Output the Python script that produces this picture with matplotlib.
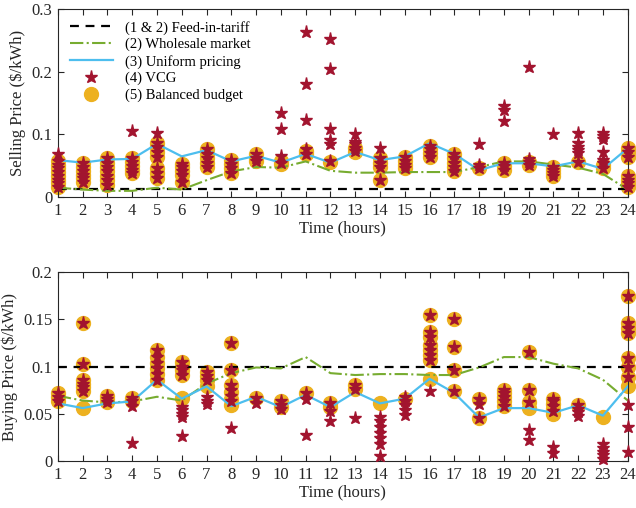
import matplotlib.pyplot as plt
import numpy as np

plt.rcParams['font.family'] = ['Liberation Serif', 'DejaVu Serif']
plt.rcParams['mathtext.fontset'] = 'stix'

hours = list(range(1, 25))

# selling price (top panel)
sell_fit = 0.0125
sell_wholesale = [0.015, 0.012, 0.010, 0.010, 0.015, 0.012, 0.027, 0.041, 0.048, 0.047, 0.057, 0.042,
                  0.039, 0.039, 0.040, 0.040, 0.040, 0.048, 0.057, 0.057, 0.052, 0.047, 0.037, 0.012]
sell_uniform = [0.059, 0.055, 0.060, 0.061, 0.085, 0.065, 0.075, 0.057, 0.066, 0.055, 0.069, 0.055,
                0.072, 0.059, 0.065, 0.086, 0.069, 0.043, 0.054, 0.054, 0.049, 0.057, 0.045, 0.078]
sell_bb = [
    [0.016, 0.022, 0.028, 0.034, 0.040, 0.046, 0.052, 0.058],
    [0.024, 0.030, 0.036, 0.042, 0.048, 0.054],
    [0.020, 0.027, 0.034, 0.041, 0.048, 0.055, 0.062],
    [0.038, 0.044, 0.050, 0.056, 0.062],
    [0.030, 0.038, 0.046, 0.064, 0.072, 0.080, 0.087],
    [0.024, 0.036, 0.042, 0.048, 0.053],
    [0.048, 0.055, 0.062, 0.069, 0.077],
    [0.038, 0.046, 0.053, 0.059],
    [0.057, 0.063, 0.068],
    [0.053, 0.058],
    [0.068, 0.074],
    [0.056],
    [0.072, 0.078],
    [0.027, 0.048, 0.055, 0.062],
    [0.046, 0.052, 0.058, 0.064],
    [0.064, 0.070, 0.076, 0.081],
    [0.041, 0.048, 0.055, 0.062, 0.069],
    [0.046],
    [0.043, 0.049, 0.054],
    [0.052, 0.056],
    [0.033, 0.038, 0.043, 0.048],
    [0.056],
    [0.046, 0.052],
    [0.016, 0.022, 0.028, 0.034, 0.064, 0.072, 0.078],
]
sell_vcg = [
    [0.016, 0.022, 0.028, 0.034, 0.040, 0.046, 0.052, 0.058, 0.068],
    [0.024, 0.030, 0.036, 0.042, 0.048, 0.054],
    [0.020, 0.027, 0.034, 0.041, 0.048, 0.055, 0.062],
    [0.038, 0.044, 0.050, 0.056, 0.062, 0.105],
    [0.030, 0.038, 0.046, 0.064, 0.072, 0.080, 0.087, 0.103],
    [0.024, 0.036, 0.042, 0.048, 0.053],
    [0.048, 0.055, 0.062, 0.069, 0.077],
    [0.038, 0.046, 0.053, 0.059],
    [0.057, 0.063, 0.068],
    [0.055, 0.065, 0.109, 0.135],
    [0.068, 0.076, 0.123, 0.181, 0.263],
    [0.058, 0.085, 0.091, 0.108, 0.205, 0.252],
    [0.073, 0.078, 0.084, 0.088, 0.100],
    [0.027, 0.048, 0.055, 0.062, 0.078],
    [0.046, 0.052, 0.058, 0.064],
    [0.064, 0.070, 0.076, 0.081],
    [0.041, 0.048, 0.055, 0.062, 0.069],
    [0.046, 0.052, 0.085],
    [0.043, 0.049, 0.054, 0.122, 0.139, 0.146],
    [0.052, 0.056, 0.061, 0.208],
    [0.033, 0.038, 0.043, 0.048, 0.100],
    [0.056, 0.070, 0.075, 0.080, 0.086, 0.102],
    [0.046, 0.054, 0.060, 0.072, 0.093, 0.098, 0.102],
    [0.016, 0.022, 0.028, 0.034, 0.064, 0.072, 0.078],
]

# buying price (bottom panel)
buy_fit = 0.1
buy_wholesale = [0.069, 0.064, 0.062, 0.063, 0.068, 0.064, 0.082, 0.093, 0.099, 0.098, 0.110, 0.093,
                 0.091, 0.092, 0.092, 0.091, 0.091, 0.099, 0.110, 0.110, 0.103, 0.098, 0.086, 0.064]
buy_uniform = [0.061, 0.056, 0.061, 0.063, 0.086, 0.066, 0.079, 0.058, 0.068, 0.057, 0.070, 0.057,
               0.073, 0.061, 0.066, 0.087, 0.072, 0.046, 0.056, 0.056, 0.051, 0.059, 0.048, 0.079]
buy_bb = [
    [0.064, 0.068, 0.072],
    [0.056, 0.074, 0.078, 0.082, 0.086, 0.103, 0.146],
    [0.062, 0.066, 0.069],
    [0.063, 0.067],
    [0.086, 0.092, 0.098, 0.104, 0.110, 0.117],
    [0.067, 0.091, 0.096, 0.100, 0.105],
    [0.079, 0.086, 0.090, 0.094],
    [0.059, 0.066, 0.073, 0.080, 0.096, 0.125],
    [0.067],
    [0.057, 0.063],
    [0.072],
    [0.057, 0.061],
    [0.076, 0.080],
    [0.061],
    [0.066],
    [0.087, 0.107, 0.112, 0.117, 0.123, 0.131, 0.137, 0.154],
    [0.074, 0.096, 0.121, 0.150],
    [0.045, 0.066],
    [0.058, 0.063, 0.068, 0.072, 0.075],
    [0.056, 0.062, 0.075, 0.115],
    [0.050, 0.055, 0.060, 0.066],
    [0.059],
    [0.047],
    [0.079, 0.089, 0.099, 0.109, 0.135, 0.141, 0.146, 0.175],
]
buy_vcg = [
    [0.064, 0.068, 0.072],
    [0.074, 0.078, 0.082, 0.086, 0.103, 0.146],
    [0.062, 0.066, 0.069],
    [0.019, 0.058, 0.063, 0.067],
    [0.086, 0.092, 0.098, 0.104, 0.110, 0.117],
    [0.026, 0.047, 0.050, 0.054, 0.057, 0.091, 0.096, 0.100, 0.105],
    [0.060, 0.064, 0.068, 0.086, 0.090, 0.094],
    [0.035, 0.063, 0.069, 0.075, 0.080, 0.096, 0.125],
    [0.061, 0.067],
    [0.055, 0.059, 0.063],
    [0.028, 0.066, 0.072],
    [0.042, 0.053, 0.061],
    [0.045, 0.076, 0.080],
    [0.005, 0.018, 0.024, 0.030, 0.036, 0.042, 0.047],
    [0.049, 0.054, 0.059, 0.063, 0.068],
    [0.074, 0.107, 0.112, 0.117, 0.123, 0.131, 0.137, 0.154],
    [0.074, 0.096, 0.121, 0.150],
    [0.045, 0.060, 0.066],
    [0.058, 0.063, 0.068, 0.072, 0.075],
    [0.022, 0.033, 0.062, 0.075, 0.115],
    [0.008, 0.015, 0.053, 0.058, 0.063, 0.066],
    [0.048, 0.052, 0.055, 0.059],
    [0.002, 0.006, 0.010, 0.014, 0.018],
    [0.010, 0.036, 0.059, 0.089, 0.099, 0.109, 0.135, 0.141, 0.146, 0.175],
]

c_star = '#A2142F'
c_circ = '#EDB120'
c_uni = '#4DBEEE'
c_whl = '#77AC30'
c_ax = '#262626'


def flat(groups):
    xs, ys = [], []
    for h, vals in zip(hours, groups):
        xs += [h] * len(vals)
        ys += vals
    return xs, ys


def panel(ax, fit, whl, uni, bb, vcg, ylim, yticks, ylabels, ylab):
    ax.plot(hours, [fit] * len(hours), '--', color='black', lw=1.6, dashes=(4, 3),
            label='(1 & 2) Feed-in-tariff', zorder=4)
    ax.plot(hours, whl, '-.', color=c_whl, lw=1.5, label='(2) Wholesale market', zorder=4)
    ax.plot(hours, uni, '-', color=c_uni, lw=1.6, label='(3) Uniform pricing', zorder=4)
    x, y = flat(vcg)
    ax.plot(x, y, '*', color=c_star, ms=9.5, ls='none', label='(4) VCG', zorder=5, clip_on=False)
    x, y = flat(bb)
    ax.plot(x, y, 'o', color=c_circ, ms=10, ls='none', label='(5) Balanced budget', zorder=2,
            clip_on=False)
    ax.set_xlim(1, 24)
    ax.set_ylim(*ylim)
    ax.set_xticks(hours)
    ax.set_yticks(yticks)
    ax.set_yticklabels(ylabels)
    ax.set_xlabel('Time (hours)', fontsize=12, color=c_ax, labelpad=1)
    ax.set_ylabel(ylab, fontsize=12, color=c_ax, labelpad=4)
    ax.tick_params(direction='in', top=True, right=True, labelsize=12, colors=c_ax,
                   length=4, pad=4)
    for s in ax.spines.values():
        s.set_color(c_ax)
        s.set_linewidth(0.8)


fig = plt.figure(figsize=(6.36, 5.08), dpi=100)
ax1 = fig.add_axes([0.091, 0.612, 0.896, 0.370])
ax2 = fig.add_axes([0.091, 0.0925, 0.896, 0.372])

panel(ax1, sell_fit, sell_wholesale, sell_uniform, sell_bb, sell_vcg, (0, 0.3),
      [0, 0.1, 0.2, 0.3], ['0', '0.1', '0.2', '0.3'], 'Selling Price (\\$/kWh)')
panel(ax2, buy_fit, buy_wholesale, buy_uniform, buy_bb, buy_vcg, (0, 0.2),
      [0, 0.05, 0.1, 0.15, 0.2], ['0', '0.05', '0.1', '0.15', '0.2'], 'Buying Price (\\$/kWh)')

ax1.legend(loc='upper left', frameon=False, fontsize=10.5, handlelength=3.0,
           labelspacing=0.22, borderaxespad=0.4, handletextpad=0.8)

fig.savefig('out.png', dpi=100)
